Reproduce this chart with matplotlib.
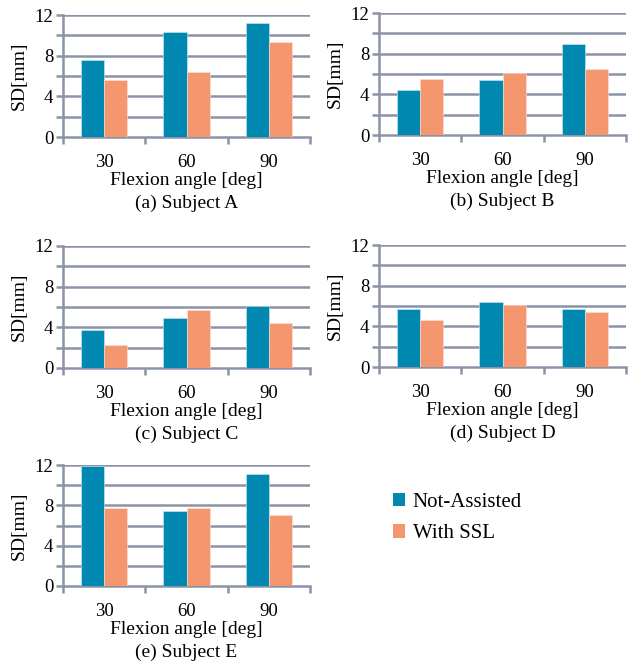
import matplotlib
matplotlib.use("Agg")
import matplotlib.pyplot as plt
import numpy as np
from matplotlib.patches import Patch

angles = ["30", "60", "90"]
subjects = ["(a) Subject A", "(b) Subject B", "(c) Subject C", "(d) Subject D", "(e) Subject E"]
not_assisted = [
    [7.6, 10.3, 11.2],
    [4.4, 5.4, 9.0],
    [3.7, 4.9, 6.1],
    [5.75, 6.35, 5.75],
    [11.9, 7.45, 11.15],
]
with_ssl = [
    [5.6, 6.4, 9.3],
    [5.55, 6.1, 6.5],
    [2.3, 5.7, 4.45],
    [4.6, 6.05, 5.4],
    [7.75, 7.75, 7.0],
]
series_names = ["Not-Assisted", "With SSL"]
yticks_major = [0, 4, 8, 12]

BLUE = "#0088B0"
ORANGE = "#F4966E"
GRID = "#8A93A8"

plt.rcParams["font.family"] = ["Liberation Serif", "DejaVu Serif"]
plt.rcParams["font.size"] = 13

W, H = 636, 666
fig = plt.figure(figsize=(W / 100, H / 100), dpi=100)

# axes boxes in pixels: left, right, top, bottom
boxes = [
    (63, 310, 15, 137),
    (379, 626, 13, 135),
    (63, 310, 246, 368),
    (379, 626, 245, 367),
    (63, 310, 465, 586),
]

x = np.arange(len(angles))
bw = 0.28
for i, (l, r, t, b) in enumerate(boxes):
    ax = fig.add_axes([l / W, 1 - b / H, (r - l) / W, (b - t) / H])
    ax.bar(x - bw / 2, not_assisted[i], bw, color=BLUE, edgecolor="#CFEAF2", linewidth=0.4, zorder=3)
    ax.bar(x + bw / 2, with_ssl[i], bw, color=ORANGE, edgecolor="#FCE3D8", linewidth=0.4, zorder=3)
    ax.set_xlim(-0.5, len(angles) - 0.5)
    ax.set_ylim(0, 12)
    ax.set_yticks(np.arange(0, 13, 2))
    ax.set_yticklabels([str(v) if v in yticks_major else "" for v in range(0, 13, 2)])
    for yv in range(2, 13, 2):
        ax.axhline(yv, color=GRID, linewidth=1.8, zorder=1)
    ax.set_xticks(x)
    ax.set_xticklabels(angles)
    ax.set_xticks(np.arange(-0.5, len(angles), 1.0), minor=True)
    ax.tick_params(axis="x", which="major", length=0, pad=12, labelsize=13.5)
    ax.tick_params(axis="x", which="minor", length=5, color=GRID, width=1.8)
    ax.tick_params(axis="y", which="major", length=5, color=GRID, width=1.8, labelsize=13.5, pad=2)
    for s in ["top", "right"]:
        ax.spines[s].set_visible(False)
    for s in ["left", "bottom"]:
        ax.spines[s].set_color(GRID)
        ax.spines[s].set_linewidth(1.8)
    ax.set_ylabel("SD[mm]", fontsize=14, labelpad=5)
    ax.set_xlabel("Flexion angle [deg]", fontsize=14, labelpad=1)
    cx = (l + r) / 2 / W
    fig.text(cx, 1 - (b + 66) / H, subjects[i], ha="center", va="center", fontsize=14)

handles = [Patch(facecolor=BLUE), Patch(facecolor=ORANGE)]
fig.legend(handles, series_names, loc="upper left", bbox_to_anchor=(374 / W, 1 - 474 / H),
           frameon=False, fontsize=15, handlelength=0.6, handleheight=0.6,
           handletextpad=0.35, labelspacing=0.6)

fig.savefig("out.png", dpi=100)
